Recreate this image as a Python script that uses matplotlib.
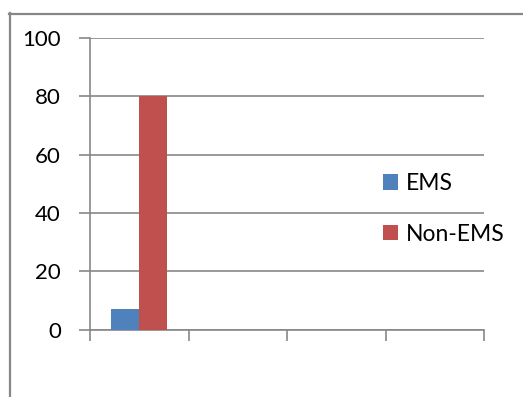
import numpy as np
import matplotlib
matplotlib.use("Agg")
import matplotlib.pyplot as plt
from matplotlib.lines import Line2D

# Chart data
categories = ["", "", "", ""]
ems = [7, np.nan, np.nan, np.nan]
non_ems = [80, np.nan, np.nan, np.nan]
y_ticks = [0, 20, 40, 60, 80, 100]

W, H = 523, 397
fig = plt.figure(figsize=(W / 100, H / 100), dpi=100)
plt.rcParams['font.family'] = ['Lato', 'DejaVu Sans']

grey = "#878787"

# Outer chart frame (left and top edges visible)
fig.add_artist(Line2D([9.5 / W, 9.5 / W], [0, 1 - 13 / H], color=grey, lw=1.6,
                      transform=fig.transFigure))
fig.add_artist(Line2D([9 / W, 1], [1 - 13.5 / H, 1 - 13.5 / H], color=grey, lw=1.6,
                      transform=fig.transFigure))

left, right = 90 / W, 484 / W
bottom, top = 1 - 329.5 / H, 1 - 38 / H
ax = fig.add_axes([left, bottom, right - left, top - bottom])

x = np.arange(len(categories))
bw = 0.2857
ax.bar(x - bw / 2, ems, width=bw, color="#4F81BD", label="EMS", zorder=3)
ax.bar(x + bw / 2, non_ems, width=bw, color="#C0504D", label="Non-EMS", zorder=3)

ax.set_xlim(-0.5, len(categories) - 0.5)
ax.set_ylim(0, 100)
ax.set_yticks(y_ticks)
ax.set_yticklabels([str(v) for v in y_ticks], fontsize=16)
ax.set_xticks(np.arange(len(categories) + 1) - 0.5)
ax.set_xticklabels([""] * (len(categories) + 1))

ax.yaxis.grid(True, color=grey, lw=1.2, zorder=0)
ax.set_axisbelow(True)
for s in ["top", "right"]:
    ax.spines[s].set_visible(False)
for s in ["left", "bottom"]:
    ax.spines[s].set_color(grey)
    ax.spines[s].set_linewidth(1.2)
ax.tick_params(axis="y", length=8, width=1.2, color=grey, pad=13, labelcolor="black")
ax.tick_params(axis="x", length=8, width=1.2, color=grey)

leg = ax.legend(loc="upper left", bbox_to_anchor=(383 / W, 1 - 173 / H),
                bbox_transform=fig.transFigure, frameon=False, fontsize=16.5,
                handlelength=0.65, handleheight=0.65, handletextpad=0.35,
                labelspacing=1.3, borderpad=0, borderaxespad=0)

fig.savefig("out.png", dpi=100)
